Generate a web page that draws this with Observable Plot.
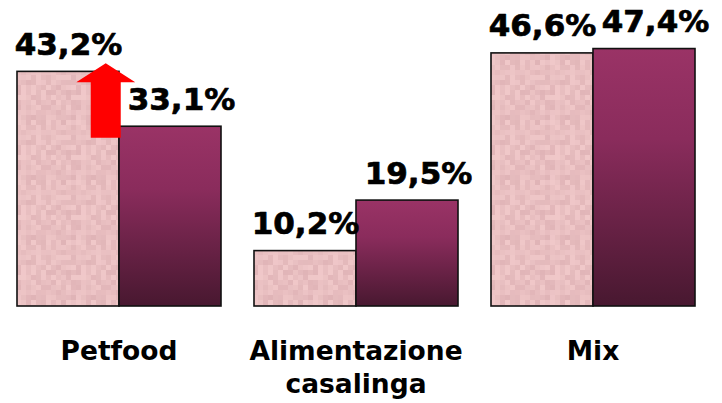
<!DOCTYPE html>
<html>
<head>
<meta charset="utf-8">
<script src="https://cdn.jsdelivr.net/npm/d3@7"></script>
<script src="https://cdn.jsdelivr.net/npm/@observablehq/plot@0.6"></script>
<style>
  html, body { margin: 0; padding: 0; background: #fff; }
  #chart svg { display: block; }
</style>
</head>
<body>
<div id="chart"></div>
<script>
// ---- data ----
const categories = ["Petfood", "Alimentazione casalinga", "Mix"];
const categoryLabels = ["Petfood", "Alimentazione\ncasalinga", "Mix"];
const seriesNames = ["Serie 1", "Serie 2"];
const valuesSerie1 = [43.2, 10.2, 46.6];
const valuesSerie2 = [33.1, 19.5, 47.4];
// annotation arrow (Petfood): from / to values
const arrowCategory = "Petfood";
const arrowFrom = 31.0;
const arrowTo = 44.7;

const rows = [];
categories.forEach((c, i) => {
  rows.push({cat: c, series: seriesNames[0], value: valuesSerie1[i]});
  rows.push({cat: c, series: seriesNames[1], value: valuesSerie2[i]});
});
const labelOf = new Map(categories.map((c, i) => [c, categoryLabels[i]]));
const fmt = v => v.toFixed(1).replace(".", ",") + "%";

const arrowMark = Plot.ruleX([{cat: arrowCategory, from: arrowFrom, to: arrowTo}], {
  fx: "cat",
  x: () => seriesNames[0],
  y1: "from",
  y2: "to",
  render(index, scales, values) {
    const g = d3.create("svg:g");
    const bw = scales.x.bandwidth ? scales.x.bandwidth() : 0;
    for (const i of index) {
      const xc = scales.x(seriesNames[0]) + bw * 0.87;
      const yb = values.y1[i], yt = values.y2[i];
      const hw = 29.5, sw = 15, hl = 19;
      const d = `M${xc},${yt} L${xc + hw},${yt + hl} L${xc + sw},${yt + hl} L${xc + sw},${yb} L${xc - sw},${yb} L${xc - sw},${yt + hl} L${xc - hw},${yt + hl} Z`;
      g.append("path").attr("d", d).attr("fill", "#ff0000");
    }
    return g.node();
  }
});

const labelStyle = {lineAnchor: "bottom", fontSize: 31, fontWeight: "bold", fill: "#000", stroke: "#000", strokeWidth: 0.7};

const chart = Plot.plot({
  width: 722,
  height: 403,
  marginTop: 10,
  marginBottom: 97,
  marginLeft: 15,
  marginRight: 27,
  style: {fontFamily: "DejaVu Sans", background: "#fff"},
  fx: {domain: categories, paddingInner: 0.137, paddingOuter: 0, label: null, axis: null},
  x: {domain: seriesNames, padding: 0, axis: null, label: null},
  y: {domain: [0, 54.5], axis: null},
  color: {domain: seriesNames, range: ["url(#pinkTex)", "url(#purpleGrad)"]},
  marks: [
    Plot.barY(rows, {fx: "cat", x: "series", y: "value", fill: "series", stroke: "#111", strokeWidth: 1.6}),
    arrowMark,
    Plot.text(rows.filter(d => d.series === seriesNames[0]), {fx: "cat", x: "series", y: "value", text: d => fmt(d.value), dy: -17, ...labelStyle}),
    Plot.text(rows.filter(d => d.series === seriesNames[1]), {fx: "cat", x: "series", y: "value", text: d => fmt(d.value), dy: -17, dx: 11, ...labelStyle}),
    Plot.axisFx({anchor: "bottom", domain: categories, tickSize: 0, tickPadding: 30, tickFormat: c => labelOf.get(c),
      fontSize: 26.5, fontWeight: "bold", fill: "#000", stroke: "#000", strokeWidth: 0.5, lineHeight: 1.25, label: null})
  ]
});

// definitions: gradient for series 2, pinkish mottled texture for series 1
const svg = d3.select(chart);
const defs = svg.insert("defs", ":first-child");
const grad = defs.append("linearGradient").attr("id", "purpleGrad").attr("x1", 0).attr("y1", 0).attr("x2", 0).attr("y2", 1);
grad.append("stop").attr("offset", "0%").attr("stop-color", "#9a3366");
grad.append("stop").attr("offset", "35%").attr("stop-color", "#8a2c5c");
grad.append("stop").attr("offset", "100%").attr("stop-color", "#481830");

const cell = 5, n = 12;
const pat = defs.append("pattern").attr("id", "pinkTex").attr("patternUnits", "userSpaceOnUse")
  .attr("width", cell * n).attr("height", cell * n);
pat.append("rect").attr("width", cell * n).attr("height", cell * n).attr("fill", "#e8bfc0");
for (let r = 0; r < n; r++) {
  for (let c = 0; c < n; c++) {
    const h = Math.abs(Math.sin((r * 12.9898 + c * 78.233) * 1.7) * 43758.5453) % 1;
    const t = (h - 0.5) * 2; // -1..1
    const R = Math.round(232 + t * 8), G = Math.round(190 + t * 10), B = Math.round(192 + t * 9);
    pat.append("rect").attr("x", c * cell).attr("y", r * cell).attr("width", cell).attr("height", cell)
      .attr("fill", `rgb(${R},${G},${B})`);
  }
}

document.getElementById("chart").appendChild(chart);
</script>
</body>
</html>
